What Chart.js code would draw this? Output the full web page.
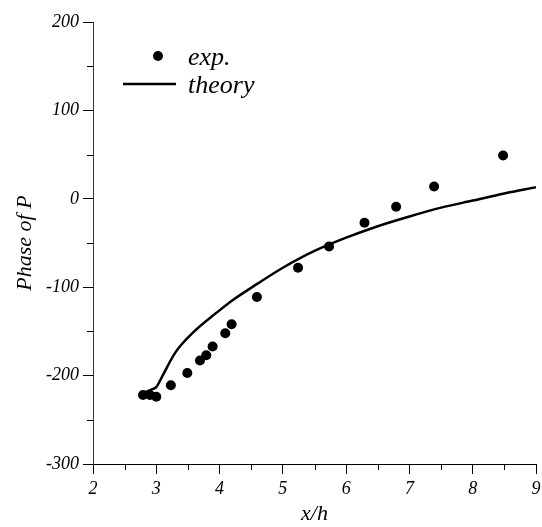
<!DOCTYPE html>
<html>
<head>
<meta charset="utf-8">
<script src="https://cdn.jsdelivr.net/npm/chart.js@4.4.1/dist/chart.umd.min.js"></script>
<style>
  html, body { margin: 0; padding: 0; background: #fff; }
  #chart { display: block; }
</style>
</head>
<body>
<canvas id="chart" width="542" height="527"></canvas>
<script>
// data
const expX = [2.79, 2.9, 3.0, 3.23, 3.49, 3.69, 3.79, 3.89, 4.09, 4.19, 4.59, 5.24, 5.73, 6.29, 6.79, 7.39, 8.48];
const expY = [-222, -222, -224, -211, -197, -183, -177, -167, -152, -142, -111, -78, -54, -27, -9, 14, 49];

const theoryX = [2.82, 2.95, 3.0, 3.1, 3.3, 3.6, 3.95, 4.2, 4.6, 5.0, 5.5, 6.0, 6.5, 7.0, 7.5, 8.0, 8.5, 9.0];
const theoryY = [-219, -215, -213, -200, -174, -150, -129, -115, -96, -78, -59, -44, -31, -20, -10, -2, 6, 13];

const xTicks = [2, 3, 4, 5, 6, 7, 8, 9];
const yTicks = [-300, -200, -100, 0, 100, 200];

const FONT = "'Liberation Serif', 'DejaVu Serif', serif";

const toPoints = (xs, ys) => xs.map((x, i) => ({ x, y: ys[i] }));

// small outward ticks halfway between the labelled ones
const minorTicks = {
  id: 'minorTicks',
  afterDraw(chart) {
    const { ctx, scales: { x, y } } = chart;
    ctx.save();
    ctx.strokeStyle = '#000';
    ctx.lineWidth = 1;
    ctx.beginPath();
    for (let i = 0; i < xTicks.length - 1; i++) {
      const px = Math.round(x.getPixelForValue((xTicks[i] + xTicks[i + 1]) / 2)) + 0.5;
      ctx.moveTo(px, x.top);
      ctx.lineTo(px, x.top + 6);
    }
    for (let i = 0; i < yTicks.length - 1; i++) {
      const py = Math.round(y.getPixelForValue((yTicks[i] + yTicks[i + 1]) / 2)) + 0.5;
      ctx.moveTo(y.right - 6, py);
      ctx.lineTo(y.right, py);
    }
    ctx.stroke();
    ctx.restore();
  }
};

// legend in the upper left corner of the plot
const insideLegend = {
  id: 'insideLegend',
  afterDraw(chart) {
    const { ctx } = chart;
    const [exp, theory] = chart.data.datasets;
    ctx.save();
    ctx.fillStyle = '#000';
    ctx.strokeStyle = '#000';

    ctx.beginPath();
    ctx.arc(158, 56, exp.pointRadius, 0, Math.PI * 2);
    ctx.fill();

    ctx.lineWidth = theory.borderWidth;
    ctx.beginPath();
    ctx.moveTo(123, 84);
    ctx.lineTo(176, 84);
    ctx.stroke();

    ctx.font = "italic 26px " + FONT;
    ctx.textBaseline = 'alphabetic';
    ctx.fillText(exp.label, 188, 65);
    ctx.fillText(theory.label, 188, 93);
    ctx.restore();
  }
};

const tickFont = { family: FONT, size: 18, style: 'italic' };
const titleFont = { family: FONT, size: 22, style: 'italic' };

new Chart(document.getElementById('chart'), {
  type: 'scatter',
  data: {
    datasets: [
      {
        label: 'exp.',
        data: toPoints(expX, expY),
        pointRadius: 5,
        pointHoverRadius: 5,
        backgroundColor: '#000',
        borderColor: '#000',
        borderWidth: 0,
        showLine: false
      },
      {
        label: 'theory',
        data: toPoints(theoryX, theoryY),
        showLine: true,
        pointRadius: 0,
        borderColor: '#000',
        borderWidth: 2.5,
        cubicInterpolationMode: 'monotone',
        fill: false
      }
    ]
  },
  options: {
    responsive: false,
    animation: false,
    layout: { padding: { top: 22, right: 6, left: 0, bottom: 0 } },
    plugins: {
      legend: { display: false },
      tooltip: { enabled: false }
    },
    scales: {
      x: {
        type: 'linear',
        min: 2,
        max: 9,
        afterBuildTicks: s => { s.ticks = xTicks.map(value => ({ value })); },
        afterFit: s => { s.height = 63; s.paddingLeft = 0; s.paddingRight = 0; },
        ticks: { font: tickFont, color: '#000', padding: 4 },
        grid: { drawOnChartArea: false, tickLength: 10, color: '#000' },
        border: { color: '#000', width: 1 },
        title: { display: true, text: 'x/h', font: titleFont, color: '#000', padding: { top: 0, bottom: 0 } }
      },
      y: {
        type: 'linear',
        min: -300,
        max: 200,
        afterBuildTicks: s => { s.ticks = yTicks.map(value => ({ value })); },
        afterFit: s => { s.width = 93; },
        ticks: { font: tickFont, color: '#000', padding: 4 },
        grid: { drawOnChartArea: false, tickLength: 10, color: '#000' },
        border: { color: '#333', width: 1 },
        title: { display: true, text: 'Phase of P', font: titleFont, color: '#000', padding: { top: 12, bottom: 0 } }
      }
    }
  },
  plugins: [minorTicks, insideLegend]
});
</script>
</body>
</html>
